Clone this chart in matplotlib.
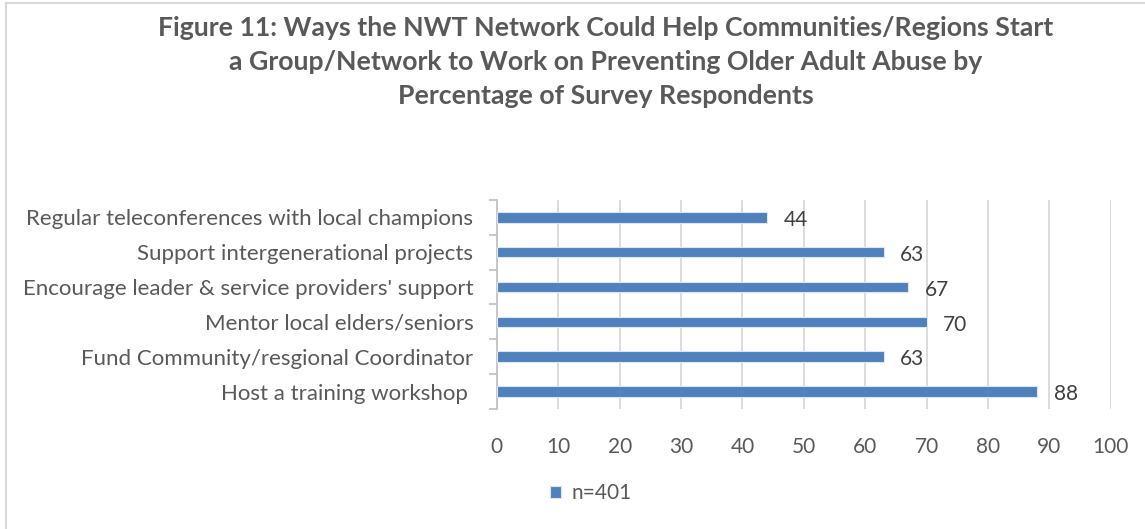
import matplotlib
matplotlib.use("Agg")
import matplotlib.pyplot as plt
from matplotlib.lines import Line2D

plt.rcParams['font.family'] = ['Lato', 'DejaVu Sans']

categories = [
    "Host a training workshop ",
    "Fund Community/resgional Coordinator",
    "Mentor local elders/seniors",
    "Encourage leader & service providers' support",
    "Support intergenerational projects",
    "Regular teleconferences with local champions",
]
values = [88, 63, 70, 67, 63, 44]
x_ticks = [0, 10, 20, 30, 40, 50, 60, 70, 80, 90, 100]
series_name = "n=401"
title = ("Figure 11: Ways the NWT Network Could Help Communities/Regions Start\n"
         "a Group/Network to Work on Preventing Older Adult Abuse by\n"
         "Percentage of Survey Respondents")

BAR = "#4F81BD"
TEXT = "#595959"
GRID = "#D9D9D9"

fig = plt.figure(figsize=(11.45, 5.29), dpi=100)
ax = fig.add_axes([0.434, 0.227, 0.536, 0.395])

ypos = list(range(len(categories)))
ax.barh(ypos, values, height=0.3, color=BAR, edgecolor="#DCE6F2", linewidth=0.8,
        zorder=3, label=series_name)

for y, v in zip(ypos, values):
    ax.annotate(str(v), (v, y), xytext=(12, -2), textcoords="offset points",
                ha="left", va="center", fontsize=15, color="#404040")

ax.set_xlim(0, 100)
ax.set_ylim(-0.5, len(categories) - 0.5)
ax.set_xticks(x_ticks)
ax.set_yticks(ypos)
ax.set_yticklabels(categories)
ax.set_yticks([y - 0.5 for y in ypos] + [len(categories) - 0.5], minor=True)

ax.grid(axis="x", color=GRID, linewidth=1.3, zorder=0)
ax.set_axisbelow(True)
for s in ["top", "right", "bottom"]:
    ax.spines[s].set_visible(False)
ax.spines["left"].set_color("#BFBFBF")
ax.spines["left"].set_linewidth(1.2)

ax.tick_params(axis="x", length=0, pad=20, labelsize=15, labelcolor=TEXT)
ax.tick_params(axis="y", which="major", length=0, pad=17, labelsize=16, labelcolor=TEXT)
ax.tick_params(axis="y", which="minor", length=6, width=1.2, color="#BFBFBF")

fig.text(0.529, 0.970, title, ha="center", va="top", fontsize=19.2, fontweight="bold",
         color=TEXT, linespacing=1.5)

leg = fig.legend(loc="center", bbox_to_anchor=(0.516, 0.068), frameon=False,
                 fontsize=15, handlelength=0.5, handleheight=0.5, handletextpad=0.5)
for t in leg.get_texts():
    t.set_color(TEXT)

# light frame along the top and left edges
fig.add_artist(Line2D([0.005, 1.0], [0.994, 0.994], transform=fig.transFigure,
                      color="#D9D9D9", linewidth=1.5))
fig.add_artist(Line2D([0.005, 0.005], [0.0, 0.994], transform=fig.transFigure,
                      color="#D9D9D9", linewidth=1.5))

fig.savefig("out.png", dpi=100)
